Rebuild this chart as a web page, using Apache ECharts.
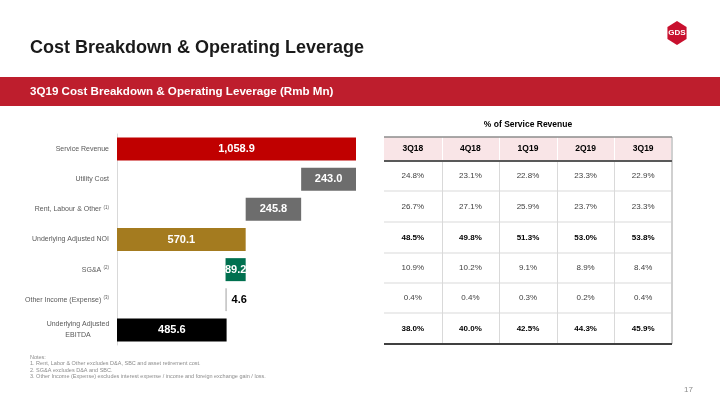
<!DOCTYPE html>
<html>
<head>
<meta charset="utf-8">
<script src="https://cdn.jsdelivr.net/npm/echarts@6/dist/echarts.min.js"></script>
<style>html,body{margin:0;padding:0;background:#fff}#c{width:720px;height:405px}</style>
</head>
<body>
<div id="c"></div>
<script>
// ---- data ----
var categories = ['Service Revenue', 'Utility Cost', 'Rent, Labour & Other', 'Underlying Adjusted NOI', 'SG&A', 'Other Income (Expense)', 'Underlying Adjusted EBITDA'];
var footnotes = ['', '', '(1)', '', '(2)', '(3)', ''];
var values = [1058.9, 243.0, 245.8, 570.1, 89.2, 4.6, 485.6];
var kinds = ['total', 'minus', 'minus', 'total', 'minus', 'plus', 'total'];

var tableQuarters = ['3Q18', '4Q18', '1Q19', '2Q19', '3Q19'];
var utilityPct = [24.8, 23.1, 22.8, 23.3, 22.9];
var rentPct = [26.7, 27.1, 25.9, 23.7, 23.3];
var noiPct = [48.5, 49.8, 51.3, 53.0, 53.8];
var sgaPct = [10.9, 10.2, 9.1, 8.9, 8.4];
var otherPct = [0.4, 0.4, 0.3, 0.2, 0.4];
var ebitdaPct = [38.0, 40.0, 42.5, 44.3, 45.9];

var notes = ['Notes:',
  '1. Rent, Labor & Other excludes D&A, SBC and asset retirement cost.',
  '2. SG&A excludes D&A and SBC.',
  '3. Other Income (Expense) excludes interest expense / income and foreign exchange gain / loss.'];

// ---- build ----
var FONT = '"Liberation Sans", Arial, sans-serif';
var barColors = ['#C00000', '#6D6D6D', '#6D6D6D', '#A47B1F', '#00704F', '#7F7F7F', '#000000'];
var bases = [], running = 0;
for (var i = 0; i < values.length; i++) {
  if (kinds[i] === 'total') { bases.push(0); running = values[i]; }
  else if (kinds[i] === 'minus') { running -= values[i]; bases.push(running); }
  else { bases.push(running); running += values[i]; }
}
function fmt(v) {
  var s = v.toFixed(1).split('.');
  s[0] = s[0].replace(/\B(?=(\d{3})+(?!\d))/g, ',');
  return s.join('.');
}
var barData = values.map(function (v, i) {
  var item = { value: v, itemStyle: { color: barColors[i] } };
  if (kinds[i] === 'plus') {
    item.itemStyle.borderColor = '#BFBFBF';
    item.itemStyle.borderWidth = 0.5;
    item.label = { position: 'right', color: '#000', distance: 5 };
  }
  return item;
});

var graphics = [];
// title
graphics.push({ type: 'text', x: 30, y: 48, style: { text: 'Cost Breakdown & Operating Leverage', font: 'bold 18px ' + FONT, fill: '#1a1a1a', verticalAlign: 'middle' } });
// band
graphics.push({ type: 'rect', shape: { x: 0, y: 77, width: 720, height: 29 }, style: { fill: '#BE1E2D' } });
graphics.push({ type: 'text', x: 30, y: 92, style: { text: '3Q19 Cost Breakdown & Operating Leverage (Rmb Mn)', font: 'bold 11.6px ' + FONT, fill: '#fff', verticalAlign: 'middle' } });
// logo
var cx = 677, cy = 33, r = 12, pts = [];
for (var k = 0; k < 6; k++) { var a = Math.PI / 180 * (60 * k - 90); pts.push([cx + r * Math.cos(a) * 0.92, cy + r * Math.sin(a)]); }
graphics.push({ type: 'polygon', shape: { points: pts }, style: { fill: '#C8102E' } });
graphics.push({ type: 'text', x: cx, y: cy, style: { text: 'GDS', font: 'bold 8px ' + FONT, fill: '#fff', align: 'center', verticalAlign: 'middle' } });

// table
var tx0 = 384, tx1 = 672, colW = (tx1 - tx0) / 5;
var rowY = [137, 161, 191, 222, 253, 283, 313, 344];
var rows = [utilityPct, rentPct, noiPct, sgaPct, otherPct, ebitdaPct];
var boldRow = [false, false, true, false, false, true];
graphics.push({ type: 'text', x: (tx0 + tx1) / 2, y: 125, style: { text: '% of Service Revenue', font: 'bold 8.5px ' + FONT, fill: '#000', align: 'center', verticalAlign: 'middle' } });
graphics.push({ type: 'rect', shape: { x: tx0, y: rowY[0], width: tx1 - tx0, height: rowY[1] - rowY[0] }, style: { fill: '#F9E5E7' } });
for (var rI = 2; rI < rowY.length - 1; rI++) {
  graphics.push({ type: 'line', shape: { x1: tx0, y1: rowY[rI], x2: tx1, y2: rowY[rI] }, style: { stroke: '#D9D9D9', lineWidth: 1 } });
}
for (var cI = 1; cI < 5; cI++) {
  var xx = Math.round(tx0 + colW * cI) + 0.5;
  graphics.push({ type: 'line', shape: { x1: xx, y1: rowY[0], x2: xx, y2: rowY[1] }, style: { stroke: '#FFFFFF', lineWidth: 1 } });
  graphics.push({ type: 'line', shape: { x1: xx, y1: rowY[1], x2: xx, y2: rowY[rowY.length - 1] }, style: { stroke: '#D9D9D9', lineWidth: 1 } });
}
graphics.push({ type: 'line', shape: { x1: tx1, y1: rowY[0], x2: tx1, y2: rowY[rowY.length - 1] }, style: { stroke: '#D0D0D0', lineWidth: 2 } });
graphics.push({ type: 'line', shape: { x1: tx0, y1: rowY[0], x2: tx1, y2: rowY[0] }, style: { stroke: '#8C8C8C', lineWidth: 1.5 } });
graphics.push({ type: 'line', shape: { x1: tx0, y1: rowY[1], x2: tx1, y2: rowY[1] }, style: { stroke: '#595959', lineWidth: 2 } });
graphics.push({ type: 'line', shape: { x1: tx0, y1: rowY[7], x2: tx1, y2: rowY[7] }, style: { stroke: '#404040', lineWidth: 2 } });
tableQuarters.forEach(function (q, c) {
  graphics.push({ type: 'text', x: tx0 + colW * (c + 0.5), y: (rowY[0] + rowY[1]) / 2, style: { text: q, font: 'bold 8.5px ' + FONT, fill: '#000', align: 'center', verticalAlign: 'middle' } });
});
rows.forEach(function (row, ri) {
  row.forEach(function (v, c) {
    graphics.push({ type: 'text', x: tx0 + colW * (c + 0.5), y: (rowY[ri + 1] + rowY[ri + 2]) / 2, style: { text: v.toFixed(1) + '%', font: (boldRow[ri] ? 'bold ' : '') + '8px ' + FONT, fill: boldRow[ri] ? '#000' : '#404040', align: 'center', verticalAlign: 'middle' } });
  });
});
// notes
notes.forEach(function (n, i) {
  graphics.push({ type: 'text', x: 30, y: 357 + i * 6.5, style: { text: n, font: '5.5px ' + FONT, fill: '#8C8C8C', verticalAlign: 'middle' } });
});
graphics.push({ type: 'text', x: 693, y: 390, style: { text: '17', font: '8px ' + FONT, fill: '#8C8C8C', align: 'right', verticalAlign: 'middle' } });

var chart = echarts.init(document.getElementById('c'), null, { renderer: 'canvas' });
chart.setOption({
  animation: false,
  backgroundColor: '#fff',
  grid: { left: 117, width: 239, top: 134, height: 211, containLabel: false },
  xAxis: { type: 'value', min: 0, max: values[0], show: false },
  yAxis: {
    type: 'category', inverse: true, data: categories,
    axisLine: { show: true, lineStyle: { color: '#D9D9D9', width: 1 } },
    axisTick: { show: false },
    axisLabel: {
      margin: 8,
      formatter: function (v, idx) {
        if (v === 'Underlying Adjusted EBITDA') return '{c|Underlying Adjusted}\n{c|EBITDA}';
        return '{n|' + v + '}' + (footnotes[idx] ? '{s| ' + footnotes[idx] + '}' : '');
      },
      rich: {
        n: { fontSize: 7, color: '#595959', fontFamily: FONT },
        s: { fontSize: 4.5, color: '#595959', fontFamily: FONT, padding: [0, 0, 4, 1] },
        c: { fontSize: 7, color: '#595959', fontFamily: FONT, width: 62, align: 'center', lineHeight: 11 }
      }
    }
  },
  series: [
    { type: 'bar', stack: 'w', data: bases, itemStyle: { color: 'transparent' }, barWidth: 23, silent: true },
    {
      type: 'bar', stack: 'w', data: barData, barWidth: 23,
      label: {
        show: true, position: 'inside', color: '#fff', fontWeight: 'bold', fontSize: 11, fontFamily: FONT,
        formatter: function (p) { return fmt(p.value); }
      }
    }
  ],
  graphic: graphics
});
</script>
</body>
</html>
